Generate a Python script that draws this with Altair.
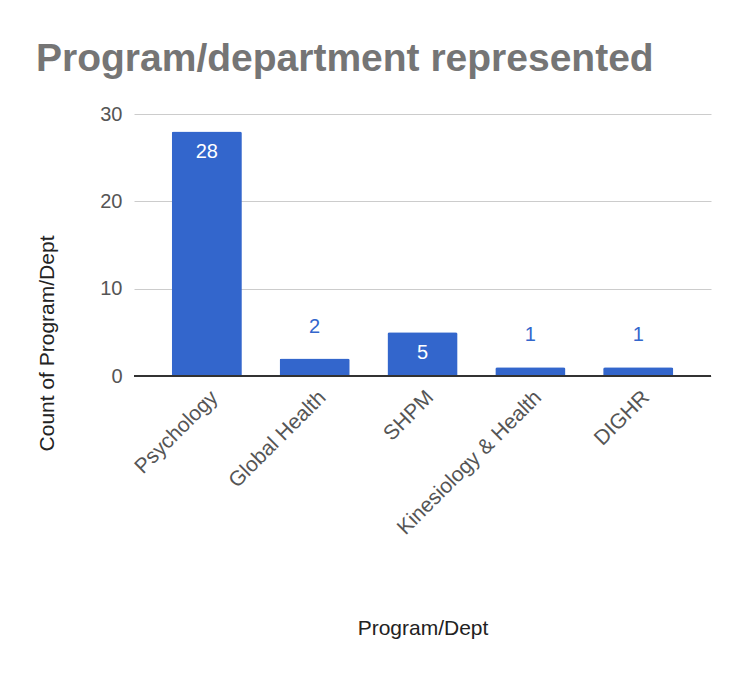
import altair as alt
import pandas as pd

programs = ["Psychology", "Global Health", "SHPM", "Kinesiology & Health", "DIGHR"]
counts = [28, 2, 5, 1, 1]

df = pd.DataFrame({"program": programs, "count": counts})

FONT = "Liberation Sans"
BLUE = "#3366cc"

x = alt.X("program:N", sort=programs,
          scale=alt.Scale(paddingInner=0.35, paddingOuter=0.35),
          axis=alt.Axis(title="Program/Dept", labelAngle=-45, labelAlign="right",
                        labelBaseline="middle", labelFontSize=21, labelColor="#555555",
                        labelFont=FONT, labelPadding=18, labelOffset=8, labelLimit=0,
                        ticks=False, domain=False,
                        titleFont=FONT, titleFontSize=21, titleFontWeight="normal",
                        titleColor="#222222", titlePadding=79))
y = alt.Y("count:Q", scale=alt.Scale(domain=[0, 30]),
          axis=alt.Axis(title="Count of Program/Dept", values=[0, 10, 20, 30],
                        labelFontSize=20, labelColor="#555555", labelFont=FONT,
                        labelPadding=12, ticks=False, domain=False,
                        gridColor="#cccccc", gridWidth=1,
                        titleFont=FONT, titleFontSize=21, titleFontWeight="normal",
                        titleColor="#222222", titleX=-87, titleY=229,
                        titleAlign="center", titleBaseline="middle", titleAngle=-90))

base = alt.Chart(df)

bars = base.mark_bar(color=BLUE, cornerRadiusTopLeft=2, cornerRadiusTopRight=2).encode(x=x, y=y)

zero = base.mark_rule(color="#333333", strokeWidth=1.5).encode(y=alt.datum(0))

inside = base.transform_filter(alt.datum["count"] >= 5).mark_text(
    color="white", font=FONT, fontSize=20, baseline="alphabetic", dy=27
).encode(x=alt.X("program:N", sort=programs), y="count:Q", text="count:Q")

outside = base.transform_filter(alt.datum["count"] < 5).mark_text(
    color=BLUE, font=FONT, fontSize=20, baseline="alphabetic", dy=-26
).encode(x=alt.X("program:N", sort=programs), y="count:Q", text="count:Q")

chart = alt.layer(bars, zero, inside, outside).properties(
    width=577, height=262,
    background="white",
    autosize=alt.AutoSizeParams(type="none"),
    padding={"left": 126, "top": 106, "right": 20, "bottom": 290},
    title=alt.Title("Program/department represented", anchor="start", font=FONT,
                    fontSize=39, fontWeight="bold", color="#757575",
                    dx=0, dy=36, baseline="alphabetic", offset=30),
).configure_view(stroke=None)

chart.save("out.html", embed_options={"renderer": "svg", "actions": False})
